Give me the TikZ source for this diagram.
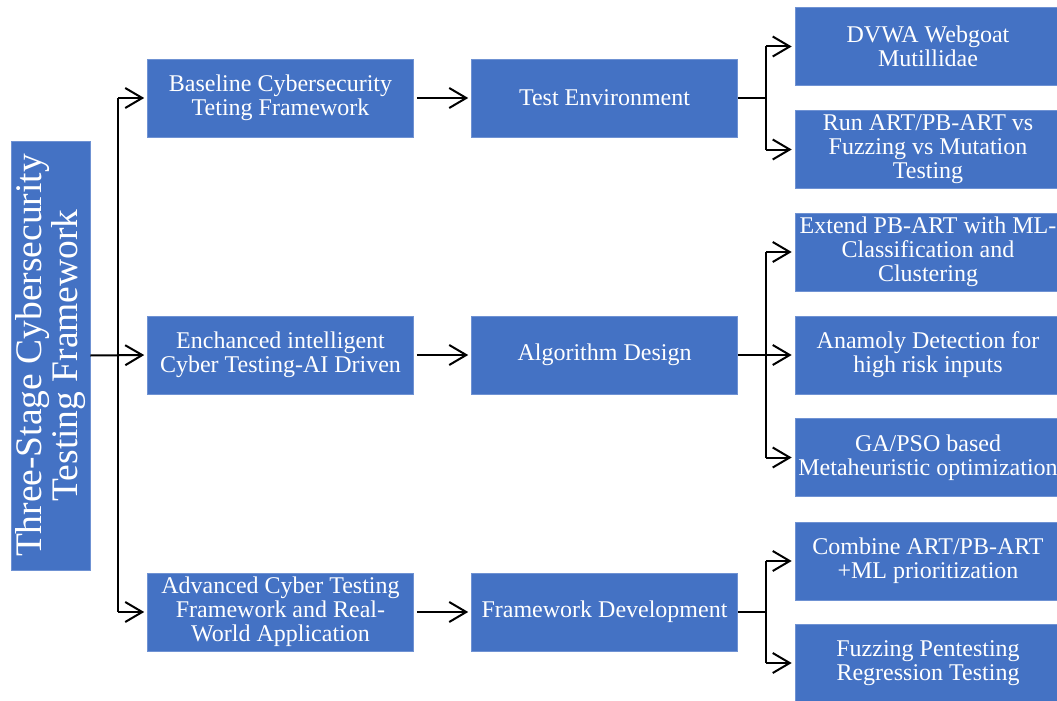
\documentclass[tikz,border=0pt]{standalone}
\usepackage{fontspec}
\setmainfont{Liberation Serif}
\usetikzlibrary{arrows.meta}
\definecolor{boxblue}{HTML}{4472C4}
\definecolor{boxedge}{HTML}{6F92D3}
\tikzset{
  box/.style={fill=boxblue, draw=boxedge, line width=0.6pt, text=white,
    font=\fontsize{24}{24}\selectfont, align=center,
    minimum width=266pt, minimum height=78pt, inner sep=0pt},
  rootbox/.style={fill=boxblue, draw=boxedge, line width=0.6pt, text=white,
    font=\fontsize{37.5}{36.5}\selectfont, align=center,
    minimum width=429pt, minimum height=79pt, inner sep=0pt, rotate=90},
  conn/.style={line width=2pt, -{Straight Barb[length=17pt,width=20pt,line width=2pt]}, shorten >=3pt},
  plain/.style={line width=2pt}
}
\begin{document}
\begin{tikzpicture}[x=1pt,y=-1pt]
\clip (0,0) rectangle (1057,701);
\fill[white] (0,0) rectangle (1057,701);

\node[rootbox] (root) at (50.5,355.5) {Three-Stage Cybersecurity\\Testing Framework};

\node[box] (a1) at (280.5,98) {Baseline Cybersecurity\\Teting Framework};
\node[box] (a2) at (280.5,355) {Enchanced intelligent\\Cyber Testing-AI Driven};
\node[box] (a3) at (280.5,612) {Advanced Cyber Testing\\Framework and Real-\\World Application};

\node[box] (b1) at (604.5,98) {Test Environment};
\node[box] (b2) at (604.5,355) {Algorithm Design};
\node[box] (b3) at (604.5,612) {Framework Development};

\node[box] (c1) at (928,46.5) {DVWA Webgoat\\Mutillidae};
\node[box] (c2) at (928,149.5) {Run ART/PB-ART vs\\Fuzzing vs Mutation\\Testing};
\node[box] (c3) at (928,252) {Extend PB-ART with ML-\\Classification and\\Clustering};
\node[box] (c4) at (928,355) {Anamoly Detection for\\high risk inputs};
\node[box] (c5) at (928,457.5) {GA/PSO based\\Metaheuristic optimization};
\node[box] (c6) at (928,561) {Combine ART/PB-ART\\+ML prioritization};
\node[box] (c7) at (928,663) {Fuzzing Pentesting\\Regression Testing};

\coordinate (t0) at (118,355);
\coordinate (t1) at (766,98);
\coordinate (t2) at (766,355);
\coordinate (t3) at (766,612);

% root to stage 1
\draw[conn] (root.south) -- (a2.west);
\draw[conn] (a1.west -| t0) -- (a1.west);
\draw[conn] (a3.west -| t0) -- (a3.west);
\draw[plain] (a1.west -| t0) -- (a3.west -| t0);

% stage 1 to stage 2
\draw[conn] ([xshift=3pt]a1.east) -- (b1.west);
\draw[conn] ([xshift=3pt]a2.east) -- (b2.west);
\draw[conn] ([xshift=3pt]a3.east) -- (b3.west);

% group 1
\draw[plain] (b1.east) -- (t1);
\draw[plain] (c1.west -| t1) -- (c2.west -| t1);
\draw[conn] (c1.west -| t1) -- (c1.west);
\draw[conn] (c2.west -| t1) -- (c2.west);

% group 2
\draw[conn] (b2.east) -- (c4.west);
\draw[plain] (c3.west -| t2) -- (c5.west -| t2);
\draw[conn] (c3.west -| t2) -- (c3.west);
\draw[conn] (c5.west -| t2) -- (c5.west);

% group 3
\draw[plain] (b3.east) -- (t3);
\draw[plain] (c6.west -| t3) -- (c7.west -| t3);
\draw[conn] (c6.west -| t3) -- (c6.west);
\draw[conn] (c7.west -| t3) -- (c7.west);
\end{tikzpicture}
\end{document}
